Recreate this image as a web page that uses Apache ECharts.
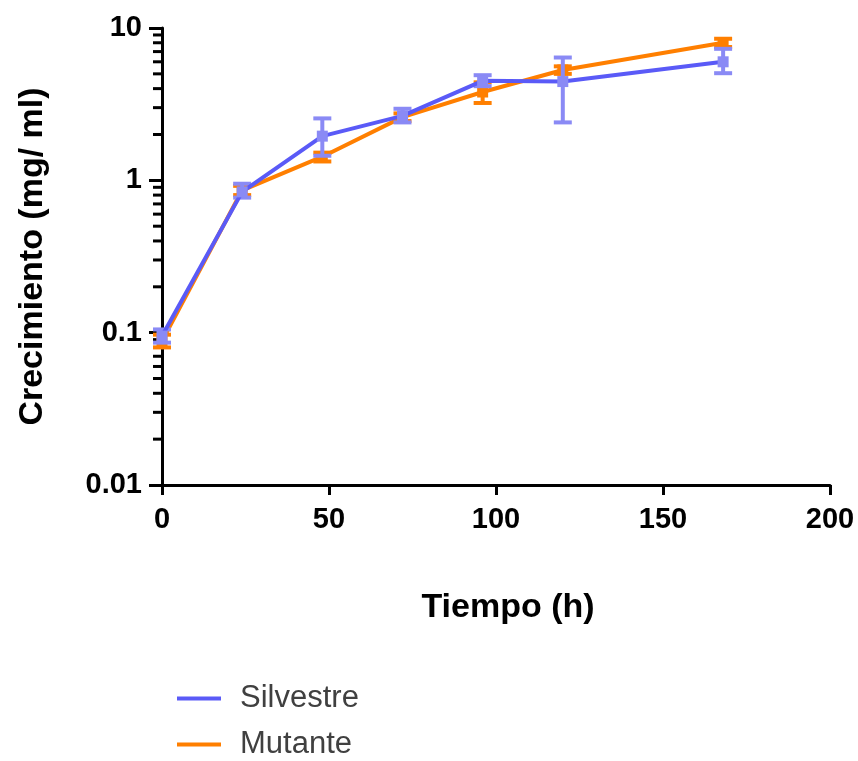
<!DOCTYPE html>
<html lang="es">
<head>
    <meta charset="UTF-8">
    <title>Crecimiento</title>
    <script src="https://cdn.jsdelivr.net/npm/echarts@6/dist/echarts.min.js"></script>
    <style>
        html, body { margin: 0; padding: 0; background: #fff; }
        #chart { width: 858px; height: 761px; }
    </style>
</head>
<body>
<div id="chart"></div>
<script>
    // time points (h)
    var tiempos = [0, 24, 48, 72, 96, 120, 168];

    // Silvestre: mean, low, high
    var silvestre = [0.095, 0.84, 1.95, 2.65, 4.5, 4.45, 6.0];
    var silvestreLow = [0.086, 0.77, 1.45, 2.4, 4.15, 2.4, 5.05];
    var silvestreHigh = [0.105, 0.95, 2.55, 2.95, 4.9, 6.4, 7.3];

    // Mutante: mean, low, high
    var mutante = [0.088, 0.86, 1.43, 2.6, 3.8, 5.3, 8.0];
    var mutanteLow = [0.08, 0.8, 1.33, 2.45, 3.22, 5.0, 7.5];
    var mutanteHigh = [0.097, 0.92, 1.52, 2.75, 4.4, 5.6, 8.5];

    // minor ticks 2..9 inside each decade
    var minorTicks = [];
    [0.01, 0.1, 1].forEach(function (d) {
        for (var k = 2; k <= 9; k++) minorTicks.push(+(k * d).toPrecision(3));
    });

    var blue = '#5a5af7';
    var blueBar = '#8a8af5';
    var orange = '#ff7f00';
    var font = '"Liberation Sans", Arial, sans-serif';

    function pairs(ys) {
        return tiempos.map(function (t, i) { return [t, ys[i]]; });
    }

    function errorSeries(name, low, high, color) {
        return {
            name: name + ' err',
            type: 'custom',
            z: 3,
            data: tiempos.map(function (t, i) { return [t, low[i], high[i]]; }),
            renderItem: function (params, api) {
                var a = api.coord([api.value(0), api.value(1)]);
                var b = api.coord([api.value(0), api.value(2)]);
                var w = 9;
                var st = { stroke: color, lineWidth: 4 };
                return {
                    type: 'group',
                    children: [
                        { type: 'line', shape: { x1: a[0], y1: a[1], x2: b[0], y2: b[1] }, style: st },
                        { type: 'line', shape: { x1: a[0] - w, y1: a[1], x2: a[0] + w, y2: a[1] }, style: st },
                        { type: 'line', shape: { x1: b[0] - w, y1: b[1], x2: b[0] + w, y2: b[1] }, style: st }
                    ]
                };
            }
        };
    }

    function legendAt(name, color, top) {
        return {
            left: 172,
            top: top,
            itemWidth: 44,
            itemHeight: 4,
            icon: 'rect',
            selectedMode: false,
            textStyle: { fontFamily: font, fontSize: 31, color: '#404040', padding: [0, 0, 0, 14] },
            data: [{ name: name, itemStyle: { color: color } }]
        };
    }

    var chart = echarts.init(document.getElementById('chart'));
    chart.setOption({
        animation: false,
        grid: { left: 162, right: 28, top: 28, bottom: 276 },
        legend: [
            legendAt('Silvestre', blue, 678),
            legendAt('Mutante', orange, 724)
        ],
        xAxis: {
            type: 'value',
            min: 0,
            max: 200,
            interval: 50,
            name: 'Tiempo (h)',
            nameLocation: 'middle',
            nameGap: 106,
            nameTextStyle: { fontFamily: font, fontSize: 34, fontWeight: 'bold', color: '#000', padding: [0, 0, 0, 24] },
            axisLine: { lineStyle: { color: '#000', width: 3 } },
            axisTick: { length: 10, lineStyle: { color: '#000', width: 3 } },
            axisLabel: { fontFamily: font, fontSize: 29, fontWeight: 'bold', color: '#000', margin: 20 },
            splitLine: { show: false }
        },
        yAxis: {
            type: 'log',
            logBase: 10,
            min: 0.01,
            max: 10,
            name: 'Crecimiento (mg/ ml)',
            nameLocation: 'middle',
            nameGap: 112,
            nameTextStyle: { fontFamily: font, fontSize: 34, fontWeight: 'bold', color: '#000' },
            axisLine: { show: true, lineStyle: { color: '#000', width: 3 } },
            axisTick: { length: 13, lineStyle: { color: '#000', width: 3 } },
            axisLabel: {
                fontFamily: font, fontSize: 29, fontWeight: 'bold', color: '#000', margin: 20,
                formatter: function (v) { return String(+v.toPrecision(2)); }
            },
            splitLine: { show: false }
        },
        series: [
            {
                name: 'minor ticks',
                type: 'custom',
                silent: true,
                clip: false,
                data: minorTicks.map(function (v) { return [0, v]; }),
                renderItem: function (params, api) {
                    var p = api.coord([api.value(0), api.value(1)]);
                    return {
                        type: 'line',
                        shape: { x1: p[0] - 9, y1: p[1], x2: p[0], y2: p[1] },
                        style: { stroke: '#000', lineWidth: 3 }
                    };
                }
            },
            {
                name: 'Mutante',
                type: 'line',
                data: pairs(mutante),
                color: orange,
                z: 2,
                symbol: 'rect',
                symbolSize: 11,
                lineStyle: { color: orange, width: 4 },
                itemStyle: { color: orange }
            },
            errorSeries('Mutante', mutanteLow, mutanteHigh, orange),
            {
                name: 'Silvestre',
                type: 'line',
                data: pairs(silvestre),
                color: blue,
                z: 4,
                symbol: 'rect',
                symbolSize: 11,
                lineStyle: { color: blue, width: 4 },
                itemStyle: { color: blueBar }
            },
            errorSeries('Silvestre', silvestreLow, silvestreHigh, blueBar)
        ]
    });
</script>
</body>
</html>
